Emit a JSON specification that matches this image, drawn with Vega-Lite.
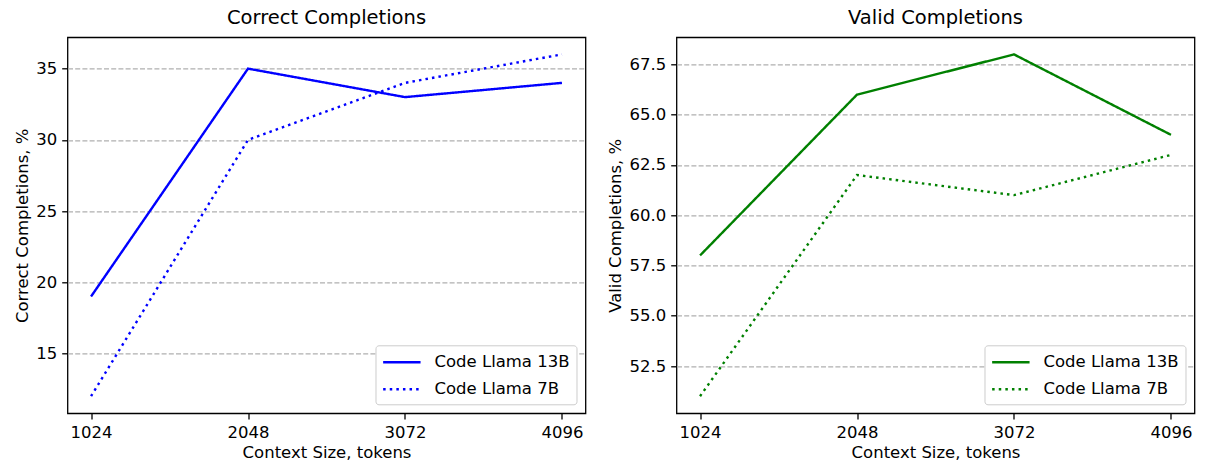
{
  "$schema": "https://vega.github.io/schema/vega-lite/v6.json",
  "padding": {"left": 13.5, "top": 6.3, "right": 0, "bottom": 5},
  "background": "white",
  "datasets": {
    "correct": [
      {"model": "Code Llama 13B", "size": 1024, "value": 19},
      {"model": "Code Llama 13B", "size": 2048, "value": 35},
      {"model": "Code Llama 13B", "size": 3072, "value": 33},
      {"model": "Code Llama 13B", "size": 4096, "value": 34},
      {"model": "Code Llama 7B", "size": 1024, "value": 12},
      {"model": "Code Llama 7B", "size": 2048, "value": 30},
      {"model": "Code Llama 7B", "size": 3072, "value": 34},
      {"model": "Code Llama 7B", "size": 4096, "value": 36}
    ],
    "valid": [
      {"model": "Code Llama 13B", "size": 1024, "value": 58},
      {"model": "Code Llama 13B", "size": 2048, "value": 66},
      {"model": "Code Llama 13B", "size": 3072, "value": 68},
      {"model": "Code Llama 13B", "size": 4096, "value": 64},
      {"model": "Code Llama 7B", "size": 1024, "value": 51},
      {"model": "Code Llama 7B", "size": 2048, "value": 62},
      {"model": "Code Llama 7B", "size": 3072, "value": 61},
      {"model": "Code Llama 7B", "size": 4096, "value": 63}
    ]
  },
  "hconcat": [
    {
      "title": "Correct Completions",
      "width": 518,
      "height": 376,
      "data": {"name": "correct"},
      "mark": {"type": "line", "color": "#0000ff", "strokeWidth": 2.4},
      "encoding": {
        "x": {"field": "size", "type": "quantitative", "title": "Context Size, tokens",
              "scale": {"domain": [870.4, 4249.6], "nice": false, "zero": false},
              "axis": {"values": [1024, 2048, 3072, 4096], "format": "d"}},
        "y": {"field": "value", "type": "quantitative", "title": "Correct Completions, %",
              "scale": {"domain": [10.8, 37.2], "nice": false, "zero": false},
              "axis": {"values": [15, 20, 25, 30, 35], "format": "d"}},
        "strokeDash": {"field": "model", "type": "nominal",
              "scale": {"domain": ["Code Llama 13B", "Code Llama 7B"], "range": [[1, 0], [2.5, 4.1]]},
              "legend": {"symbolStrokeColor": "#0000ff"}}
      }
    },
    {
      "title": "Valid Completions",
      "width": 518,
      "height": 376,
      "data": {"name": "valid"},
      "mark": {"type": "line", "color": "#008000", "strokeWidth": 2.4},
      "encoding": {
        "x": {"field": "size", "type": "quantitative", "title": "Context Size, tokens",
              "scale": {"domain": [870.4, 4249.6], "nice": false, "zero": false},
              "axis": {"values": [1024, 2048, 3072, 4096], "format": "d"}},
        "y": {"field": "value", "type": "quantitative", "title": "Valid Completions, %",
              "scale": {"domain": [50.15, 68.85], "nice": false, "zero": false},
              "axis": {"values": [52.5, 55, 57.5, 60, 62.5, 65, 67.5], "format": ".1f"}},
        "strokeDash": {"field": "model", "type": "nominal",
              "scale": {"domain": ["Code Llama 13B", "Code Llama 7B"], "range": [[1, 0], [2.5, 4.1]]},
              "legend": {"symbolStrokeColor": "#008000"}}
      }
    }
  ],
  "resolve": {"scale": {"strokeDash": "independent", "x": "independent", "y": "independent"}, "legend": {"strokeDash": "independent"}},
  "spacing": 20,
  "config": {
    "font": "DejaVu Sans",
    "view": {"stroke": "black", "strokeWidth": 1.3},
    "axis": {
      "domain": false,
      "labelFont": "DejaVu Sans",
      "labelFontSize": 16.5,
      "labelColor": "black",
      "titleFont": "DejaVu Sans",
      "titleFontSize": 16.5,
      "titleFontWeight": "normal",
      "titleColor": "black",
      "tickColor": "black",
      "tickWidth": 1.3,
      "tickSize": 5.8,
      "labelPadding": 5
    },
    "axisX": {"grid": false, "titlePadding": 4},
    "axisY": {"grid": true, "gridColor": "#b0b0b0", "gridDash": [5, 2.2], "gridWidth": 1.2, "titlePadding": 5.5},
    "title": {"font": "DejaVu Sans", "fontSize": 19.5, "fontWeight": "normal", "color": "black", "offset": 9},
    "legend": {
      "orient": "bottom-right",
      "offset": 9,
      "title": null,
      "symbolType": "M-1,0H3",
      "symbolSize": 350,
      "symbolStrokeWidth": 2.4,
      "labelFont": "DejaVu Sans",
      "labelFontSize": 16.5,
      "labelColor": "black",
      "labelOffset": 31,
      "rowPadding": 7,
      "padding": 6,
      "strokeColor": "#cccccc",
      "cornerRadius": 3,
      "fillColor": "white"
    }
  }
}
